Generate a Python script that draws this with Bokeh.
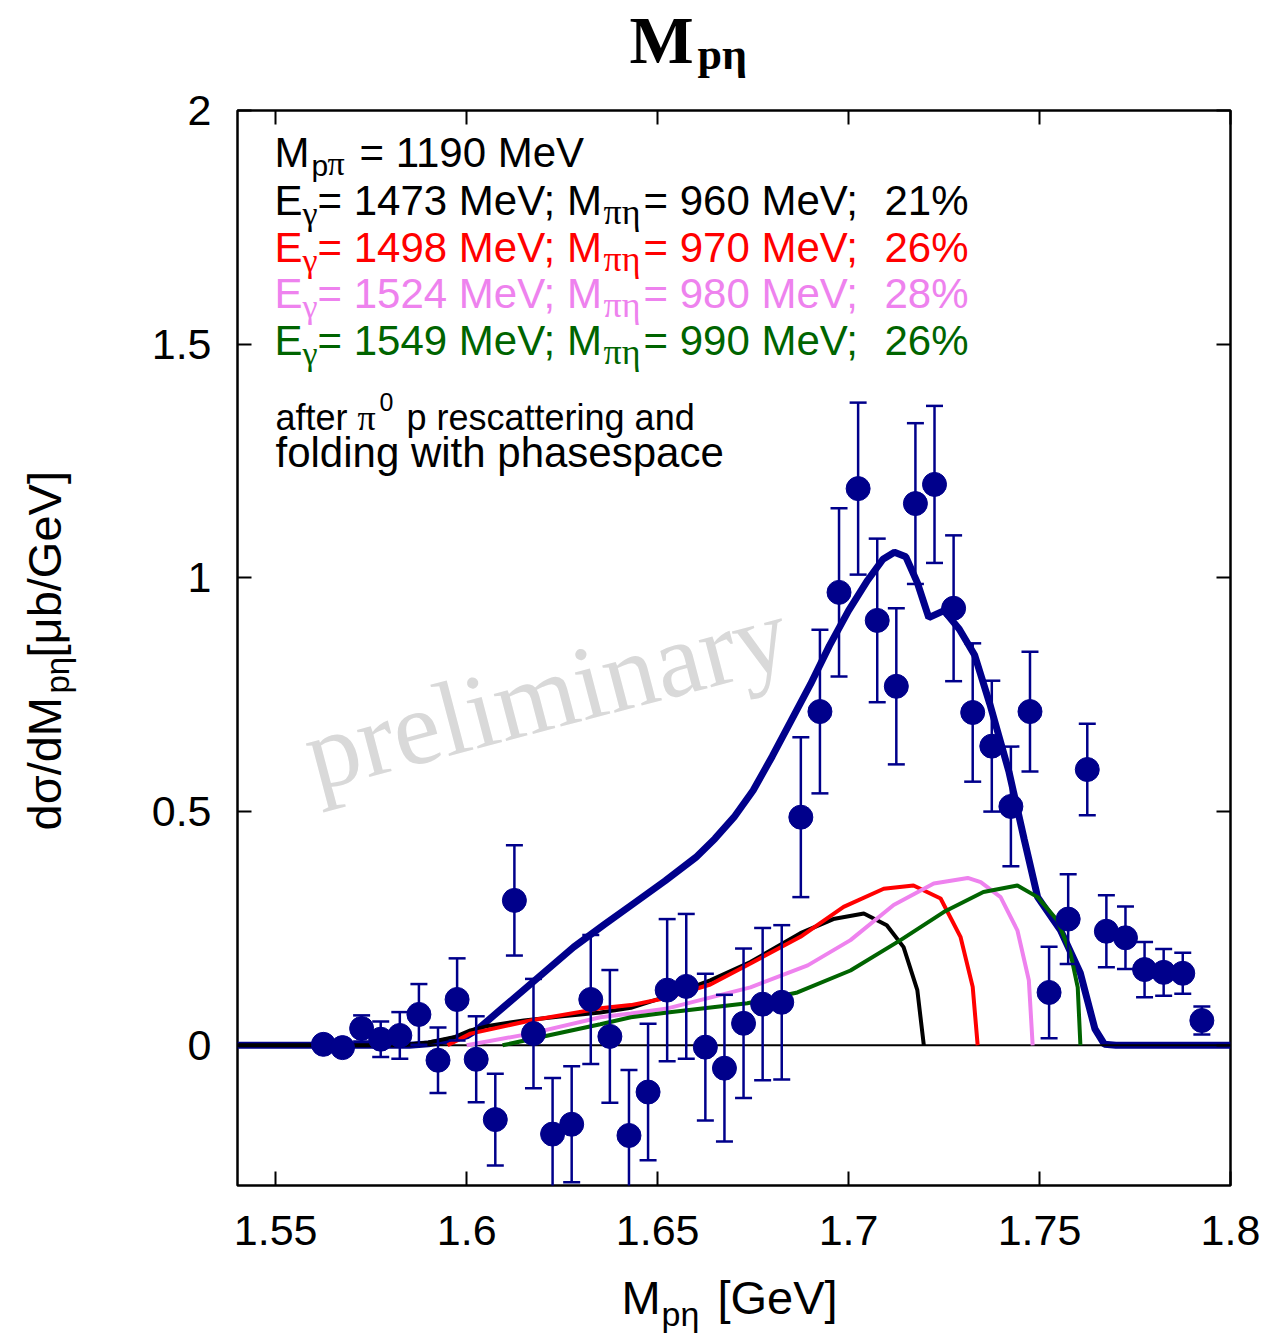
import math
from bokeh.plotting import figure
from bokeh.models import Label, FixedTicker, CustomJSTickFormatter, LinearAxis, Range1d
from bokeh.layouts import column, row
from bokeh.embed import file_html
from bokeh.resources import INLINE

# ---------------- data ----------------
m_peta = [1.5625, 1.5675, 1.5725, 1.5775, 1.5825, 1.5875, 1.5925, 1.5975, 1.6025, 1.6075,
          1.6125, 1.6175, 1.6225, 1.6275, 1.6325, 1.6375, 1.6425, 1.6475, 1.6525, 1.6575,
          1.6625, 1.6675, 1.6725, 1.6775, 1.6825, 1.6875, 1.6925, 1.6975, 1.7025, 1.7075,
          1.7125, 1.7175, 1.7225, 1.7275, 1.7325, 1.7375, 1.7425, 1.7475, 1.7525, 1.7575,
          1.7625, 1.7675, 1.7725, 1.7775, 1.7825, 1.7875, 1.7925]
xsec = [0.002, -0.005, 0.036, 0.013, 0.021, 0.066, -0.032, 0.098, -0.030, -0.159,
        0.310, 0.025, -0.190, -0.169, 0.098, 0.019, -0.193, -0.100, 0.118, 0.126,
        -0.004, -0.049, 0.047, 0.088, 0.092, 0.488, 0.714, 0.969, 1.191, 0.909,
        0.768, 1.159, 1.200, 0.935, 0.712, 0.640, 0.511, 0.714, 0.113, 0.270,
        0.590, 0.244, 0.230, 0.162, 0.156, 0.154, 0.053]
xsec_err = [0.015, 0.015, 0.028, 0.038, 0.050, 0.065, 0.070, 0.088, 0.092, 0.098,
            0.118, 0.117, 0.120, 0.124, 0.138, 0.142, 0.140, 0.146, 0.152, 0.155,
            0.157, 0.157, 0.160, 0.163, 0.165, 0.171, 0.175, 0.180, 0.184, 0.175,
            0.167, 0.172, 0.168, 0.156, 0.148, 0.140, 0.128, 0.128, 0.098, 0.096,
            0.098, 0.077, 0.067, 0.059, 0.050, 0.044, 0.030]

sum_x = [1.540, 1.585, 1.590, 1.595, 1.600, 1.603, 1.610, 1.620, 1.628, 1.636, 1.644,
         1.652, 1.660, 1.665, 1.670, 1.675, 1.680, 1.685, 1.690, 1.695, 1.700, 1.705,
         1.709, 1.712, 1.715, 1.718, 1.721, 1.725, 1.729, 1.733, 1.737, 1.742, 1.746,
         1.7495, 1.7555, 1.7607, 1.7645, 1.767, 1.770, 1.800]
sum_y = [0.0, 0.0, 0.003, 0.010, 0.020, 0.035, 0.084, 0.154, 0.210, 0.258, 0.305,
         0.352, 0.402, 0.442, 0.488, 0.545, 0.618, 0.695, 0.772, 0.855, 0.930, 0.995,
         1.040, 1.055, 1.045, 0.990, 0.915, 0.930, 0.890, 0.835, 0.730, 0.585, 0.440,
         0.317, 0.246, 0.154, 0.035, 0.002, 0.0, 0.0]

c1_x = [1.540, 1.583, 1.590, 1.597, 1.601, 1.606, 1.615, 1.625, 1.635, 1.643, 1.6526,
        1.6638, 1.6743, 1.6874, 1.696, 1.704, 1.710, 1.7144, 1.718, 1.7197]
c1_y = [0.0, 0.0, 0.006, 0.018, 0.032, 0.042, 0.053, 0.062, 0.070, 0.080, 0.105,
        0.139, 0.178, 0.240, 0.270, 0.282, 0.257, 0.210, 0.118, 0.0]

c2_x = [1.595, 1.601, 1.6167, 1.635, 1.643, 1.6516, 1.6638, 1.6743, 1.6874, 1.6987,
        1.7092, 1.717, 1.7241, 1.7293, 1.7325, 1.7338]
c2_y = [0.0, 0.025, 0.053, 0.079, 0.086, 0.100, 0.130, 0.175, 0.232, 0.296,
        0.335, 0.342, 0.314, 0.232, 0.125, 0.0]

c3_x = [1.600, 1.6167, 1.635, 1.643, 1.6526, 1.6743, 1.6893, 1.7005, 1.7118, 1.7223,
        1.7312, 1.7346, 1.7398, 1.7442, 1.7472, 1.7482]
c3_y = [0.0, 0.025, 0.060, 0.068, 0.079, 0.124, 0.171, 0.225, 0.300, 0.346,
        0.358, 0.349, 0.317, 0.246, 0.139, 0.0]

c4_x = [1.6094, 1.635, 1.643, 1.6526, 1.6735, 1.6866, 1.7005, 1.7136, 1.7249, 1.7353,
        1.7442, 1.7495, 1.7547, 1.7581, 1.760, 1.7607]
c4_y = [0.0, 0.045, 0.060, 0.070, 0.090, 0.113, 0.160, 0.225, 0.285, 0.328,
        0.342, 0.317, 0.267, 0.197, 0.124, 0.0]

x_ticks = [1.55, 1.6, 1.65, 1.7, 1.75, 1.8]
y_ticks = [0, 0.5, 1, 1.5, 2]

e_gamma = ["1473", "1498", "1524", "1549"]
m_pieta = ["960", "970", "980", "990"]
weights = ["21%", "26%", "28%", "26%"]
curve_colors = ["#000000", "#ff0000", "#ee82ee", "#006400"]

NAVY = "#00008b"
SANS = "Liberation Sans"
SERIF = "Liberation Serif"

# layout geometry (page pixels)
PAGE_W, PAGE_H = 1272, 1334
TITLE_H = 82
YLAB_W = 80
XLAB_H = 66
MAIN_W = PAGE_W - YLAB_W
MAIN_H = PAGE_H - TITLE_H - XLAB_H
FRAME_TOP = 110      # page y of the plot frame's top edge
FRAME_BOTTOM = 1185  # page y of the plot frame's bottom edge

# ---------------- main figure ----------------
p = figure(width=MAIN_W, height=MAIN_H, x_range=Range1d(1.54, 1.8), y_range=Range1d(-0.3, 2.0),
           output_backend="svg", toolbar_location=None,
           min_border_left=237 - YLAB_W, min_border_right=42,
           min_border_top=FRAME_TOP - TITLE_H,
           min_border_bottom=(PAGE_H - XLAB_H) - FRAME_BOTTOM)
p.grid.visible = False
p.outline_line_color = "black"
p.outline_line_width = 2.5
p.background_fill_color = "white"
p.border_fill_color = "white"

bottom_axis = p.below[0]
left_axis = p.left[0]
bottom_axis.ticker = FixedTicker(ticks=x_ticks)
left_axis.ticker = FixedTicker(ticks=y_ticks)
bottom_axis.formatter = CustomJSTickFormatter(code="return String(tick)")
left_axis.formatter = CustomJSTickFormatter(code="return String(tick)")

top_axis = LinearAxis(ticker=FixedTicker(ticks=x_ticks), formatter=CustomJSTickFormatter(code="return ''"))
right_axis = LinearAxis(ticker=FixedTicker(ticks=y_ticks), formatter=CustomJSTickFormatter(code="return ''"))
p.add_layout(top_axis, "above")
p.add_layout(right_axis, "right")

for ax in [bottom_axis, left_axis, top_axis, right_axis]:
    ax.axis_line_color = None
    ax.major_tick_in = 14
    ax.major_tick_out = 0
    ax.major_tick_line_width = 2
    ax.major_tick_line_color = "black"
    ax.minor_tick_line_color = None
    ax.major_label_text_font = SANS
    ax.major_label_text_font_size = "43px"
    ax.major_label_text_color = "black"
for ax in [top_axis, right_axis]:
    ax.major_label_standoff = 0
    ax.major_label_text_font_size = "1px"
bottom_axis.major_label_standoff = 30
left_axis.major_label_standoff = 26

# ---------------- glyphs ----------------
p.line(sum_x, sum_y, line_color=NAVY, line_width=7)
p.line([p.x_range.start, p.x_range.end], [0, 0], line_color="black", line_width=2)
for cx, cy, col in [(c1_x, c1_y, curve_colors[0]), (c2_x, c2_y, curve_colors[1]),
                    (c3_x, c3_y, curve_colors[2]), (c4_x, c4_y, curve_colors[3])]:
    p.line(cx, cy, line_color=col, line_width=4)

lo = [v - e for v, e in zip(xsec, xsec_err)]
hi = [v + e for v, e in zip(xsec, xsec_err)]
p.segment(x0=m_peta, y0=lo, x1=m_peta, y1=hi, line_color=NAVY, line_width=2.5)
p.scatter(m_peta, lo, marker="dash", size=17, line_color=NAVY, line_width=2.5)
p.scatter(m_peta, hi, marker="dash", size=17, line_color=NAVY, line_width=2.5)
p.scatter(m_peta, xsec, marker="circle", size=24, fill_color=NAVY, line_color=NAVY)

# ---------------- text helper (page coords of the baseline start -> canvas coords) ----------------
BASE_K = 0.35   # the label is drawn with its baseline ~0.35 em below the anchor


def put(fig, x0, y0, text, x, y, size, color="black", font=SANS, style="normal", angle=0.0,
        level="annotation"):
    ax_ = x - x0 - BASE_K * size * math.sin(angle)
    ay_ = y - y0 - BASE_K * size * math.cos(angle)
    fig.add_layout(Label(text=text, x=ax_, y=ay_, x_units="canvas", y_units="canvas",
                         text_font=font, text_font_size=f"{size}px", text_color=color,
                         text_font_style=style, text_align="left", text_baseline="alphabetic",
                         angle=angle, level=level))


def lab(text, x, y, size, **kw):
    put(p, YLAB_W, TITLE_H, text, x, y, size, **kw)


# texts inside the frame
lab("preliminary", 316, 792, 106, color="#d9d9d9", font=SERIF, angle=0.257, level="underlay")

lab("M", 274, 167, 42)
lab("p", 311, 175, 30)
lab("π", 327, 175, 34, font=SERIF)
lab("= 1190 MeV", 359, 167, 42)
for i, b in enumerate([215, 262, 308, 355]):
    col = curve_colors[i]
    lab("E", 274, b, 42, color=col)
    lab("γ", 302, b + 10, 34, color=col, font=SERIF)
    lab(f"= {e_gamma[i]} MeV; M", 317, b, 42, color=col)
    lab("πη", 603, b + 9, 36, color=col, font=SERIF)
    lab(f"= {m_pieta[i]} MeV;", 643, b, 42, color=col)
    lab(weights[i], 884, b, 42, color=col)

lab("after", 275, 430, 36)
lab("π", 357, 430, 36, font=SERIF)
lab("0", 379, 410, 25)
lab("p rescattering and", 406, 430, 36)
lab("folding with phasespace", 275, 467, 42)


# ---------------- texts outside the frame: text-only figures ----------------
def text_fig(w, h):
    f = figure(width=w, height=h, x_range=Range1d(0, w), y_range=Range1d(0, h),
               output_backend="svg", toolbar_location=None, min_border=0,
               x_axis_location=None, y_axis_location=None)
    f.grid.visible = False
    f.outline_line_color = None
    f.background_fill_color = "white"
    f.border_fill_color = "white"
    return f


title_fig = text_fig(PAGE_W, TITLE_H)
put(title_fig, 0, 0, "M", 629, 63, 68, font=SERIF, style="bold")
put(title_fig, 0, 0, "pη", 697, 69, 44, font=SERIF, style="bold")

ylab_fig = text_fig(YLAB_W, MAIN_H)
put(ylab_fig, 0, TITLE_H, "dσ/dM", 60, 830, 47, angle=math.pi / 2)
put(ylab_fig, 0, TITLE_H, "pη", 69, 693, 33, angle=math.pi / 2)
put(ylab_fig, 0, TITLE_H, "[μb/GeV]", 60, 657, 47, angle=math.pi / 2)

xlab_fig = text_fig(PAGE_W, XLAB_H)
y0x = PAGE_H - XLAB_H
put(xlab_fig, 0, y0x, "M", 621, 1313, 47)
put(xlab_fig, 0, y0x, "pη", 661, 1325, 34)
put(xlab_fig, 0, y0x, "[GeV]", 717, 1313, 47)

layout = column(title_fig, row(ylab_fig, p, spacing=0), xlab_fig, spacing=0)

open("out.html", "w").write(file_html(layout, INLINE))
